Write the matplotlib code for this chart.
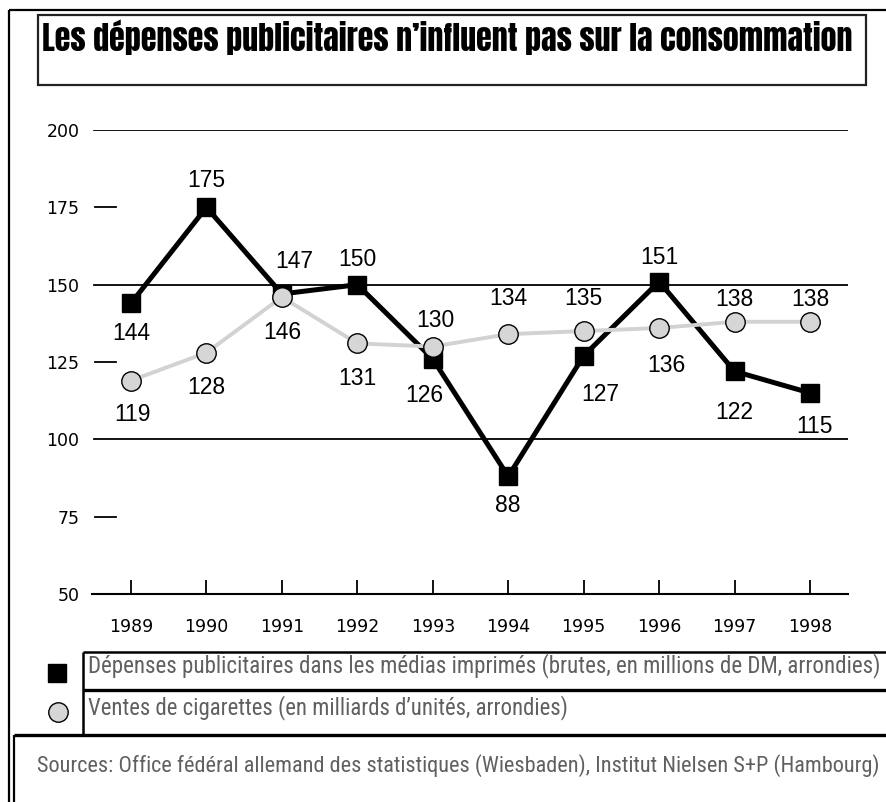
import matplotlib
matplotlib.use("Agg")
import matplotlib.pyplot as plt
from matplotlib.lines import Line2D
from matplotlib.patches import Rectangle
import warnings
warnings.filterwarnings("ignore")

# ---------------- data ----------------
years = [1989, 1990, 1991, 1992, 1993, 1994, 1995, 1996, 1997, 1998]
ad_spend = [144, 175, 147, 150, 126, 88, 127, 151, 122, 115]
cig_sales = [119, 128, 146, 131, 130, 134, 135, 136, 138, 138]
y_ticks = [50, 75, 100, 125, 150, 175, 200]
title = "Les dépenses publicitaires n’influent pas sur la consommation"
legend_ads = "Dépenses publicitaires dans les médias imprimés (brutes, en millions de DM, arrondies)"
legend_cig = "Ventes de cigarettes (en milliards d’unités, arrondies)"
source = "Sources: Office fédéral allemand des statistiques (Wiesbaden), Institut Nielsen S+P (Hambourg)"

# label offsets in pixels (dx, dy; dy positive = downwards)
ad_label_off = [(0, 30), (0, -27), (12, -32), (0, -25), (-8, 37), (0, 29), (17, 39), (0, -24), (0, 41), (4, 34)]
cig_label_off = [(2, 34), (0, 35), (0, 35), (0, 35), (3, -26), (0, -36), (0, -33), (7, 38), (0, -22), (0, -22)]

W, H = 887, 802
fig = plt.figure(figsize=(W / 100, H / 100), dpi=100)
fig.patch.set_facecolor("white")

def fx(x):
    return x / W

def fy(y):
    return 1 - y / H

def fline(x0, y0, x1, y1, lw=1.5, color="black"):
    fig.add_artist(Line2D([fx(x0), fx(x1)], [fy(y0), fy(y1)], transform=fig.transFigure,
                          lw=lw, color=color, solid_capstyle="butt"))

renderer = fig.canvas.get_renderer()

def fit_text(x, y, s, width, family, weight="normal", color="black", va="center"):
    t = fig.text(fx(x), fy(y), s, ha="left", va=va, fontsize=20, family=family,
                 weight=weight, color=color)
    w = t.get_window_extent(renderer=renderer).width
    t.set_fontsize(20 * width / w)
    return t

condensed_bold = ["Anton", "Oswald", "Liberation Sans Narrow", "DejaVu Sans"]
condensed = ["Roboto Condensed", "Liberation Sans Narrow", "DejaVu Sans"]

# ---------------- frames ----------------
fline(9, 10, 887, 10, lw=1.6)
fline(9, 10, 9, 802, lw=1.6)
fig.add_artist(Rectangle((fx(38), fy(85)), fx(866) - fx(38), fy(15) - fy(85),
                         transform=fig.transFigure, fill=False, lw=1.6, ec="#222222"))
fit_text(42, 37, title, 808, condensed_bold, weight="bold")

# ---------------- axes ----------------
ax_l, ax_r, ax_t, ax_b = 92, 848, 130, 594
ax = fig.add_axes([fx(ax_l), fy(ax_b), (ax_r - ax_l) / W, (ax_b - ax_t) / H])
ax.set_facecolor("none")
px_per_year = (810 - 131) / (years[-1] - years[0])
ax.set_xlim(years[0] - (131 - ax_l) / px_per_year, years[-1] + (ax_r - 810) / px_per_year)
ax.set_ylim(50, 200)
for sp in ["top", "right", "left"]:
    ax.spines[sp].set_visible(False)
ax.spines["bottom"].set_linewidth(1.5)

ax.set_xticks(years)
ax.set_xticklabels([str(y) for y in years], fontsize=12.5, family="DejaVu Sans")
ax.tick_params(axis="x", direction="in", length=10, width=1.3, pad=17, colors="black")
ax.set_yticks(y_ticks)
ax.set_yticklabels([str(v) for v in y_ticks], fontsize=12.5, family="DejaVu Sans")
ax.tick_params(axis="y", length=0, pad=9)

for v in y_ticks[1:]:
    if v % 50 == 0:
        ax.axhline(v, xmin=0.002, xmax=1, color="black", lw=1.3)
    else:
        ax.axhline(v, xmin=0.004, xmax=0.032, color="black", lw=1.3)

ax.plot(years, ad_spend, color="black", lw=3.6, marker="s", ms=13.5, mfc="black",
        mec="black", zorder=3, solid_joinstyle="miter")
ax.plot(years, cig_sales, color="#d2d2d2", lw=2.8, marker="o", ms=14, mfc="#d6d6d6",
        mec="black", mew=1.0, zorder=4)

for x, v, (dx, dy) in zip(years, ad_spend, ad_label_off):
    ax.annotate(str(v), (x, v), xytext=(dx, -dy), textcoords="offset pixels",
                ha="center", va="center", fontsize=16.5, family="Liberation Sans", zorder=5)
for x, v, (dx, dy) in zip(years, cig_sales, cig_label_off):
    ax.annotate(str(v), (x, v), xytext=(dx, -dy), textcoords="offset pixels",
                ha="center", va="center", fontsize=16.5, family="Liberation Sans", zorder=5)

# ---------------- legend ----------------
fline(83, 652, 887, 652, lw=1.8)
fline(83, 690, 887, 690, lw=2.4)
fline(83, 652, 83, 735, lw=1.8)
fline(14, 735, 887, 735, lw=2.4)
fline(14, 735, 14, 802, lw=1.6)

fig.add_artist(Line2D([fx(57)], [fy(673)], transform=fig.transFigure, marker="s", ms=13,
                      mfc="black", mec="black", ls="none"))
fig.add_artist(Line2D([fx(58)], [fy(712)], transform=fig.transFigure, marker="o", ms=14,
                      mfc="#d6d6d6", mec="black", mew=1.0, ls="none"))

fit_text(88, 666, legend_ads, 794, condensed, color="#606060")
fit_text(88, 708, legend_cig, 478, condensed, color="#606060")
fit_text(37, 766, source, 843, condensed, color="#606060")

fig.savefig("out.png", dpi=100, facecolor="white")
